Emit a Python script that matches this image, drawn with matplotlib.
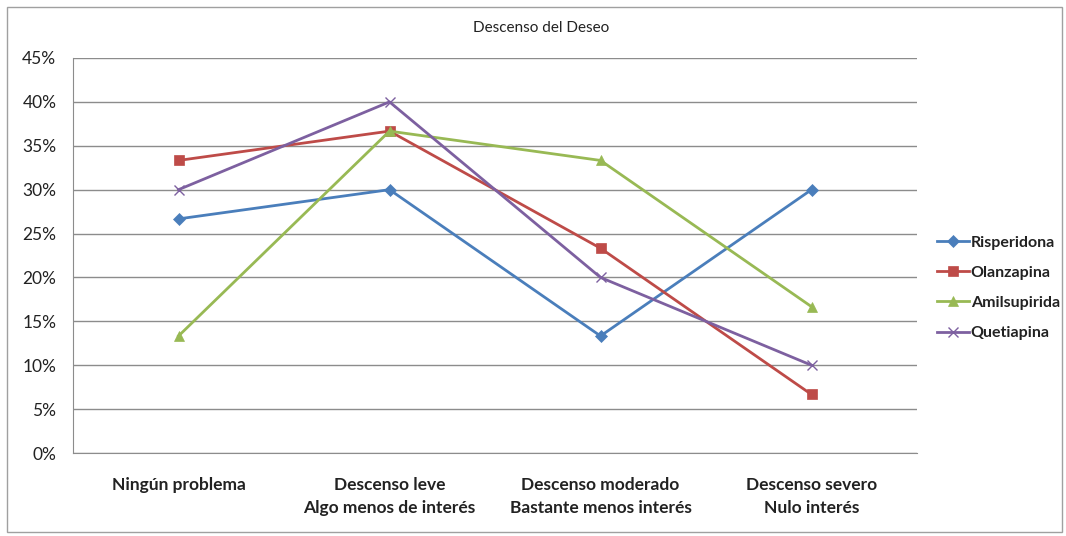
import matplotlib
matplotlib.use('Agg')
import matplotlib.pyplot as plt
from matplotlib.patches import Rectangle
from matplotlib.ticker import FuncFormatter

plt.rcParams['font.family'] = ['Lato', 'DejaVu Sans']

categorias = ['Ningún problema', 'Descenso leve\nAlgo menos de interés',
              'Descenso moderado\nBastante menos interés', 'Descenso severo\nNulo interés']
risperidona = [26.67, 30.0, 13.33, 30.0]
olanzapina = [33.33, 36.67, 23.33, 6.67]
amilsupirida = [13.33, 36.67, 33.33, 16.67]
quetiapina = [30.0, 40.0, 20.0, 10.0]
yticks = [0, 5, 10, 15, 20, 25, 30, 35, 40, 45]

series = [
    ('Risperidona', risperidona, '#4A7EBB', 'D', 6),
    ('Olanzapina', olanzapina, '#BE4B48', 's', 7),
    ('Amilsupirida', amilsupirida, '#98B954', '^', 7),
    ('Quetiapina', quetiapina, '#7D60A0', 'x', 7),
]

fig = plt.figure(figsize=(10.66, 5.36), dpi=100)
# marco exterior del grafico
fig.patches.append(Rectangle((7 / 1066, 4 / 536), 1055 / 1066, 525 / 536,
                             transform=fig.transFigure, fill=False,
                             edgecolor='#A0A0A0', lw=1))

ax = fig.add_axes([73 / 1066, 1 - 453 / 536, 844 / 1066, 395 / 536])
x = list(range(len(categorias)))
for nombre, vals, color, mk, ms in series:
    ax.plot(x, vals, color=color, lw=2, marker=mk, markersize=ms,
            markeredgewidth=1 if mk == 'x' else 0.5, markeredgecolor=color,
            label=nombre)

ax.set_xlim(-0.5, len(categorias) - 0.5)
ax.set_ylim(0, 45)
ax.set_yticks(yticks)
ax.yaxis.set_major_formatter(FuncFormatter(lambda v, p: f'{v:.0f}%'))
ax.set_xticks(x)
ax.set_xticklabels(categorias, fontsize=13, fontweight='bold', color='#222222',
                   linespacing=1.55)
ax.tick_params(axis='both', length=0, labelsize=12.5, colors='#222222')
ax.tick_params(axis='x', pad=17)
ax.tick_params(axis='y', pad=12)
ax.yaxis.grid(True, color='#8C8C8C', lw=1)
ax.set_axisbelow(True)
for s in ['top', 'right']:
    ax.spines[s].set_visible(False)
for s in ['left', 'bottom']:
    ax.spines[s].set_color('#8C8C8C')

fig.text(541 / 1066, 1 - 28 / 536, 'Descenso del Deseo', ha='center', va='center',
         fontsize=11, color='#222222')

ax.legend(loc='center left', bbox_to_anchor=(1.007, 0.418), frameon=False,
          prop={'size': 11.5, 'weight': 'bold'}, handlelength=2.0,
          labelspacing=1.0, handletextpad=0.1, labelcolor='#222222')

fig.savefig('out.png', dpi=100)
